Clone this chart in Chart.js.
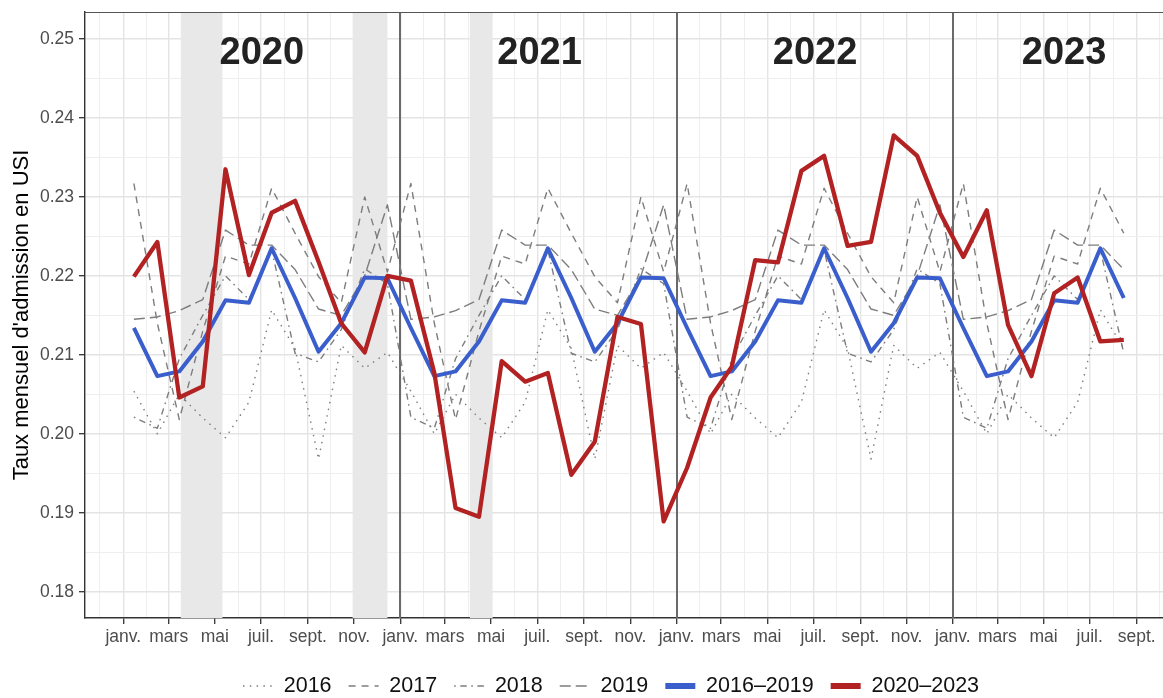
<!DOCTYPE html>
<html>
<head>
<meta charset="utf-8">
<script src="https://cdn.jsdelivr.net/npm/chart.js@4/dist/chart.umd.min.js"></script>
<style>
html,body{margin:0;padding:0;background:#fff;}
canvas{display:block;}
</style>
</head>
<body>
<canvas id="c" width="1163" height="698"></canvas>
<script>
// ---------- DATA ----------
const monthLabels = ['janv.','févr.','mars','avr.','mai','juin','juil.','août','sept.','oct.','nov.','déc.'];
const periodYears = [2020, 2021, 2022, 2023];
const monthsIn2023 = 8;               // data through August 2023

// Reference years (monthly rates, Jan..Dec), repeated in every panel
const ref2016 = [0.2054,0.2000,0.2050,0.2020,0.1995,0.2040,0.2157,0.2108,0.1968,0.2112,0.2083,0.2103];
const ref2017 = [0.2317,0.2140,0.2018,0.2130,0.2225,0.2215,0.2311,0.2254,0.2199,0.2166,0.2300,0.2205];
const ref2018 = [0.2021,0.2007,0.2095,0.2150,0.2200,0.2170,0.2233,0.2102,0.2091,0.2132,0.2209,0.2190];
const ref2019 = [0.2145,0.2148,0.2156,0.2170,0.2258,0.2239,0.2239,0.2208,0.2158,0.2150,0.2200,0.2290];
const ref2016_2019 = [0.2134,0.2073,0.2079,0.2117,0.2169,0.2166,0.2235,0.2172,0.2104,0.2140,0.2198,0.2197];

// Observed 2020-2023 monthly rates
const obs2020 = [0.2199,0.2243,0.2046,0.2060,0.2335,0.2201,0.2280,0.2295,0.2218,0.2140,0.2103,0.2200];
const obs2021 = [0.2194,0.2077,0.1906,0.1895,0.2092,0.2066,0.2077,0.1948,0.1990,0.2148,0.2139,0.1889];
const obs2022 = [0.1957,0.2046,0.2085,0.2220,0.2217,0.2333,0.2352,0.2238,0.2243,0.2378,0.2352,0.2280];
const obs2023 = [0.2224,0.2283,0.2138,0.2073,0.2178,0.2198,0.2117,0.2119];

const yTicks = [0.18,0.185,0.19,0.195,0.20,0.205,0.21,0.215,0.22,0.225,0.23,0.235,0.24,0.245,0.25];

// Lockdown periods (shaded)
const lockdowns = [['2020-03-17','2020-05-11'],['2020-10-30','2020-12-15'],['2021-04-03','2021-05-03']];
const yearBreaks = ['2021-01-01','2022-01-01','2023-01-01'];
const yearLabels = ['2020','2021','2022','2023'];
const yearLabelDates = ['2020-07-02','2021-07-04','2022-07-03','2023-05-28'];

// ---------- HELPERS ----------
const ORIGIN = Date.UTC(2020,0,1);
const dayOfYMD = (y,m,d) => (Date.UTC(y,m,d) - ORIGIN) / 864e5;
const dayOf = s => { const [y,m,d] = s.split('-').map(Number); return dayOfYMD(y, m-1, d); };

const slots = [];
periodYears.forEach(y => {
  const n = y === 2023 ? monthsIn2023 : 12;
  for (let m = 0; m < n; m++) slots.push({y, m});
});
const refPoints = arr => slots.map(s => ({x: dayOfYMD(s.y, s.m, 15), y: arr[s.m]}));
const obsAll = [].concat(obs2020, obs2021, obs2022, obs2023);
const obsPoints = slots.map((s,i) => ({x: dayOfYMD(s.y, s.m, 15), y: obsAll[i]}));

const xTicks = [];
for (let k = -1; k <= 45; k++) {
  const y = 2020 + Math.floor(k/12), m = ((k % 12) + 12) % 12;
  xTicks.push({value: dayOfYMD(y, m, 1), label: m % 2 === 0 ? monthLabels[m] : '', major: m % 2 === 0});
}
const xMajor = new Set(xTicks.filter(t => t.major).map(t => t.value));
const isMajorY = v => Math.abs(Math.round(v*100) - v*100) < 1e-6;

const GRAY = '#7d7d7d';
const FONT = "'Liberation Sans', Arial, Helvetica, sans-serif";
Chart.defaults.font.family = FONT;

// ---------- PLUGIN: shading, separators, year labels, top border ----------
const decor = {
  id: 'decor',
  afterLayout(chart) {
    const lg = chart.legend;
    if (!lg || !lg.lineWidths) return;
    const pad = lg.options.labels.padding;
    const start = (lg.left + pad + lg.right - lg.lineWidths[0]) / 2;
    const dx = 243 - start;
    lg.left += dx; lg.right += dx;
    const fs = lg.options.labels.font.size;
    const dy = 686 - (lg.top + pad + fs/2);
    lg.top += dy; lg.bottom += dy;
  },
  beforeDatasetsDraw(chart) {
    const {ctx, chartArea: a, scales: {x, y}} = chart;
    ctx.save();
    ctx.beginPath(); ctx.rect(a.left, a.top, a.right - a.left, a.bottom - a.top); ctx.clip();
    ctx.fillStyle = '#e8e8e8';
    lockdowns.forEach(([s,e]) => {
      const x0 = x.getPixelForValue(dayOf(s)), x1 = x.getPixelForValue(dayOf(e));
      ctx.fillRect(x0, a.top, x1 - x0, a.bottom - a.top);
    });
    ctx.strokeStyle = '#6a6a6a'; ctx.lineWidth = 2;
    yearBreaks.forEach(s => {
      const px = Math.round(x.getPixelForValue(dayOf(s)));
      ctx.beginPath(); ctx.moveTo(px, a.top); ctx.lineTo(px, a.bottom); ctx.stroke();
    });
    ctx.restore();
    ctx.save();
    ctx.strokeStyle = '#555'; ctx.lineWidth = 1.2;
    ctx.beginPath(); ctx.moveTo(a.left, a.top + 0.5); ctx.lineTo(a.right, a.top + 0.5); ctx.stroke();
    ctx.fillStyle = '#222';
    ctx.font = "bold 38px " + FONT;
    ctx.textAlign = 'center'; ctx.textBaseline = 'middle';
    yearLabels.forEach((t,i) => {
      ctx.fillText(t, x.getPixelForValue(dayOf(yearLabelDates[i])), y.getPixelForValue(0.2482));
    });
    ctx.restore();
  }
};

const line = (label, data, color, width, dash, order) => ({
  label, data, borderColor: color, backgroundColor: color, borderWidth: width,
  borderDash: dash, pointRadius: 0, pointHoverRadius: 0, pointStyle: 'line',
  tension: 0, fill: false, order, borderJoinStyle: 'round', borderCapStyle: 'butt'
});

new Chart(document.getElementById('c'), {
  type: 'line',
  data: {
    datasets: [
      line('2016', refPoints(ref2016), GRAY, 1.4, [1.5, 5.3], 3),
      line('2017', refPoints(ref2017), GRAY, 1.4, [7, 6], 3),
      line('2018', refPoints(ref2018), GRAY, 1.4, [1.6, 4.5, 6.5, 4.5], 3),
      line('2019', refPoints(ref2019), GRAY, 1.4, [11, 5], 3),
      line('2016–2019', refPoints(ref2016_2019), '#3a5fcd', 4, [], 2),
      line('2020–2023', obsPoints, '#b22222', 4.3, [], 1)
    ]
  },
  options: {
    responsive: false,
    animation: false,
    devicePixelRatio: 1,
    layout: { padding: { top: 12, left: 0, right: 0, bottom: 0 } },
    plugins: {
      tooltip: { enabled: false },
      legend: {
        position: 'bottom',
        align: 'center',
        labels: {
          usePointStyle: true,
          pointStyleWidth: 30,
          padding: 17,
          color: '#111',
          font: { size: 21.5 },
          sort: (a, b) => a.datasetIndex - b.datasetIndex,
          generateLabels: chart => {
            const items = Chart.defaults.plugins.legend.labels.generateLabels(chart);
            items.forEach(it => {
              const ds = chart.data.datasets[it.datasetIndex];
              it.pointStyle = 'line';
              it.lineDash = ds.borderDash;
              it.lineCap = 'butt';
              it.strokeStyle = ds.borderColor;
              it.lineWidth = ds.borderWidth > 2 ? 6 : 1.6;
            });
            return items;
          }
        }
      }
    },
    scales: {
      x: {
        type: 'linear',
        min: -50.6,
        max: 1373.8,
        afterBuildTicks: s => { s.ticks = xTicks.map(t => ({value: t.value})); },
        afterFit: s => { s.height = 31.5; s.paddingLeft = 0; s.paddingRight = 0; },
        ticks: {
          autoSkip: false, maxRotation: 0, padding: 3,
          color: '#4d4d4d', font: { size: 17.5 },
          callback: v => { const t = xTicks.find(q => q.value === v); return t ? t.label : ''; }
        },
        grid: {
          color: c => xMajor.has(c.tick && c.tick.value) ? '#e4e4e4' : '#eeeeee',
          lineWidth: c => xMajor.has(c.tick && c.tick.value) ? 1.4 : 1,
          tickColor: c => xMajor.has(c.tick && c.tick.value) ? '#333' : 'rgba(0,0,0,0)',
          tickWidth: 1.3,
          tickLength: 6
        },
        border: { display: true, color: '#333', width: 1.4 }
      },
      y: {
        type: 'linear',
        min: 0.17667,
        max: 0.25342,
        afterBuildTicks: s => { s.ticks = yTicks.map(v => ({value: v})); },
        afterFit: s => { s.width = 85; s.paddingTop = 0; s.paddingBottom = 0; },
        ticks: {
          padding: 5, color: '#4d4d4d', font: { size: 17.5 },
          callback: v => isMajorY(v) ? v.toFixed(2) : ''
        },
        grid: {
          color: c => isMajorY(c.tick ? c.tick.value : 0) ? '#e4e4e4' : '#eeeeee',
          lineWidth: c => isMajorY(c.tick ? c.tick.value : 0) ? 1.4 : 1,
          tickColor: c => isMajorY(c.tick ? c.tick.value : 0) ? '#333' : 'rgba(0,0,0,0)',
          tickWidth: 1.3,
          tickLength: 6
        },
        border: { display: true, color: '#333', width: 1.4 },
        title: {
          display: true,
          text: "Taux mensuel d'admission en USI",
          color: '#000',
          font: { size: 22 },
          padding: { top: 9, bottom: 0 }
        }
      }
    }
  },
  plugins: [decor]
});
</script>
</body>
</html>
